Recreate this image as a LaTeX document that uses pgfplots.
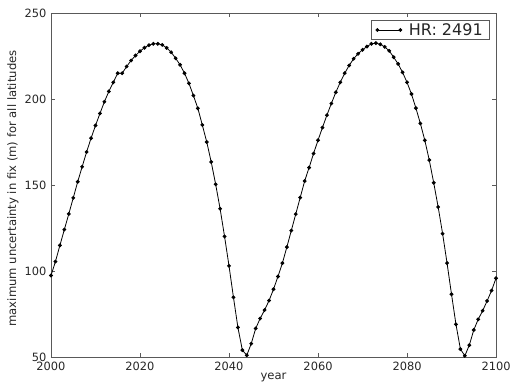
\documentclass[border=0pt]{standalone}
\usepackage{fontspec}
\setmainfont{DejaVu Sans}
\usepackage{pgfplots}
\pgfplotsset{compat=1.18}
\usepackage{pgfplotstable}
\pgfplotstableread{
year val
2000 97.4
2001 105.5
2002 114.9
2003 124.1
2004 133.2
2005 142.5
2006 151.9
2007 160.6
2008 169.2
2009 177.2
2010 184.6
2011 191.6
2012 198.4
2013 204.4
2014 209.7
2015 215.0
2016 215.0
2017 218.9
2018 222.4
2019 225.3
2020 227.8
2021 229.8
2022 231.3
2023 232.1
2024 232.1
2025 231.5
2026 229.7
2027 227.2
2028 223.7
2029 219.9
2030 215.0
2031 209.1
2032 202.0
2033 194.6
2034 184.9
2035 175.0
2036 163.4
2037 150.4
2038 136.2
2039 120.1
2040 103.0
2041 84.7
2042 67.2
2043 54.0
2044 51.0
2045 57.8
2046 66.6
2047 72.4
2048 77.3
2049 82.8
2050 89.4
2051 96.8
2052 104.6
2053 113.9
2054 123.5
2055 133.1
2056 142.7
2057 152.3
2058 160.1
2059 168.3
2060 176.0
2061 183.4
2062 190.6
2063 197.4
2064 203.9
2065 209.7
2066 215.0
2067 219.5
2068 223.4
2069 226.3
2070 228.6
2071 230.5
2072 232.1
2073 232.5
2074 231.8
2075 230.3
2076 228.0
2077 224.3
2078 220.4
2079 215.5
2080 209.7
2081 202.9
2082 194.7
2083 185.8
2084 176.0
2085 164.5
2086 151.3
2087 137.2
2088 121.7
2089 104.6
2090 86.5
2091 69.0
2092 54.6
2093 50.7
2094 56.9
2095 65.7
2096 71.9
2097 76.9
2098 82.6
2099 88.6
2100 95.8
}\datatable
\begin{document}
\begin{tikzpicture}
\path[use as bounding box] (-51pt,-27pt) rectangle (459pt,357pt);
\begin{axis}[
  at={(0,0)}, anchor=south west,
  scale only axis,
  width=445pt, height=344pt,
  xmin=2000, xmax=2100, ymin=50, ymax=250,
  xtick={2000,2020,...,2100},
  ytick={50,100,...,250},
  /pgf/number format/assume math mode=true,
  /pgf/number format/1000 sep={},
  axis line style={black!65, line width=0.8pt},
  tick style={black!65, line width=0.6pt},
  tick align=inside,
  major tick length=4pt,
  ticklabel style={font=\fontsize{11.4}{13}\selectfont, text=black!85},
  xticklabel style={inner sep=0pt, anchor=north, yshift=-4.5pt},
  yticklabel style={inner sep=0pt, anchor=east, xshift=-4.5pt},
  xlabel={year},
  ylabel={maximum uncertainty in fix (m) for all latitudes},
  label style={font=\fontsize{11.6}{13}\selectfont, text=black!85},
  x label style={at={(axis description cs:0.5,-0.058)}, anchor=center},
  y label style={at={(axis description cs:-0.0854,0.49)}, anchor=center, rotate=0},
  legend style={at={(1,1)}, anchor=north east, xshift=-6pt, yshift=-7pt,
    draw=black!65, line width=0.6pt, inner xsep=5pt, inner ysep=1pt,
    font=\fontsize{16}{18}\selectfont, text=black!85,
    nodes={inner sep=2pt}},
  legend cell align=left,
  legend image code/.code={\draw[#1] plot coordinates {(0pt,0pt) (23pt,0pt)};},
]
\addplot[black, line width=0.8pt, mark=*, mark size=1.5pt] table[x=year, y=val] {\datatable};
\addlegendentry{\hspace{5pt}HR: 2491}
\end{axis}
\end{tikzpicture}
\end{document}
